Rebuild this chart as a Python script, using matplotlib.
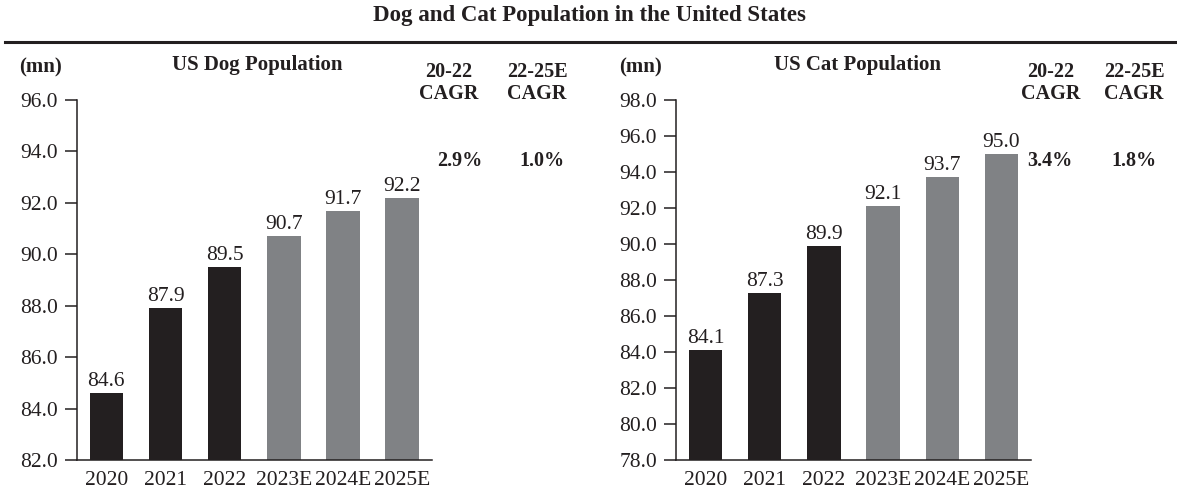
import numpy as np
import matplotlib.pyplot as plt
from matplotlib.lines import Line2D

plt.rcParams['font.family'] = ['Liberation Serif', 'DejaVu Serif']

years = ['2020', '2021', '2022', '2023E', '2024E', '2025E']
dog_pop = [84.6, 87.9, 89.5, 90.7, 91.7, 92.2]
cat_pop = [84.1, 87.3, 89.9, 92.1, 93.7, 95.0]
dog_cagr = ['2.9%', '1.0%']
cat_cagr = ['3.4%', '1.8%']
cagr_heads = ['20-22\nCAGR', '22-25E\nCAGR']

dark = '#231f20'
grey = '#808285'
colors = [dark] * 3 + [grey] * 3

W, H = 1177, 490
fig = plt.figure(figsize=(W / 100, H / 100), dpi=100)


def fx(px):
    return px / W


def fy(py):
    return 1 - py / H


def draw_panel(left, values, ylo, yhi, title, cagr, head_x, val_x):
    ax = fig.add_axes([fx(left), fy(460), fx(355), fy(100) - fy(460)])
    x = np.arange(len(values))
    ax.bar(x, [v - ylo for v in values], bottom=ylo, width=0.566, color=colors)
    for xi, v in zip(x, values):
        ax.text(xi, v + 0.08 * (yhi - ylo) / 14, f'{v:.1f}', ha='center', va='bottom',
                fontsize=15.5, color='#231f20')
    ax.set_xlim(-0.5, len(values) - 0.5)
    ax.set_ylim(ylo, yhi)
    ticks = np.arange(ylo, yhi + 0.1, 2)
    ax.set_yticks(ticks)
    ax.set_yticklabels([f'{t:.1f}' for t in ticks])
    ax.set_xticks(x)
    ax.set_xticklabels(years)
    ax.tick_params(axis='y', length=8.5, width=1.1, pad=5, labelsize=15.5,
                   color='#231f20', labelcolor='#231f20')
    ax.tick_params(axis='x', length=0, pad=8, labelsize=15.5, labelcolor='#231f20')
    for s in ['top', 'right']:
        ax.spines[s].set_visible(False)
    for s in ['left', 'bottom']:
        ax.spines[s].set_linewidth(1.1)
        ax.spines[s].set_color('#231f20')

    fig.text(fx(left - 36), fy(67), '(mn)', ha='center', va='center',
             fontsize=15, fontweight='bold', color='#231f20')
    fig.text(fx(left + 181), fy(65), title, ha='center', va='center',
             fontsize=15, fontweight='bold', color='#231f20')
    for hx, head in zip(head_x, cagr_heads):
        fig.text(fx(hx), fy(83), head, ha='center', va='center', fontsize=14.5,
                 fontweight='bold', color='#231f20', linespacing=1.15)
    for vx, val in zip(val_x, cagr):
        fig.text(fx(vx), fy(161), val, ha='center', va='center', fontsize=14.5,
                 fontweight='bold', color='#231f20')


draw_panel(76.7, dog_pop, 82.0, 96.0, 'US Dog Population', dog_cagr,
           [449, 537], [460, 542])
draw_panel(676, cat_pop, 78.0, 98.0, 'US Cat Population', cat_cagr,
           [1051, 1134], [1050, 1134])

fig.text(fx(589), fy(15), 'Dog and Cat Population in the United States',
         ha='center', va='center', fontsize=16.5, fontweight='bold', color='#231f20')
fig.add_artist(Line2D([fx(5), 1.0], [fy(42), fy(42)], color='#231f20', linewidth=2.2))

fig.savefig('out.png', dpi=100)
